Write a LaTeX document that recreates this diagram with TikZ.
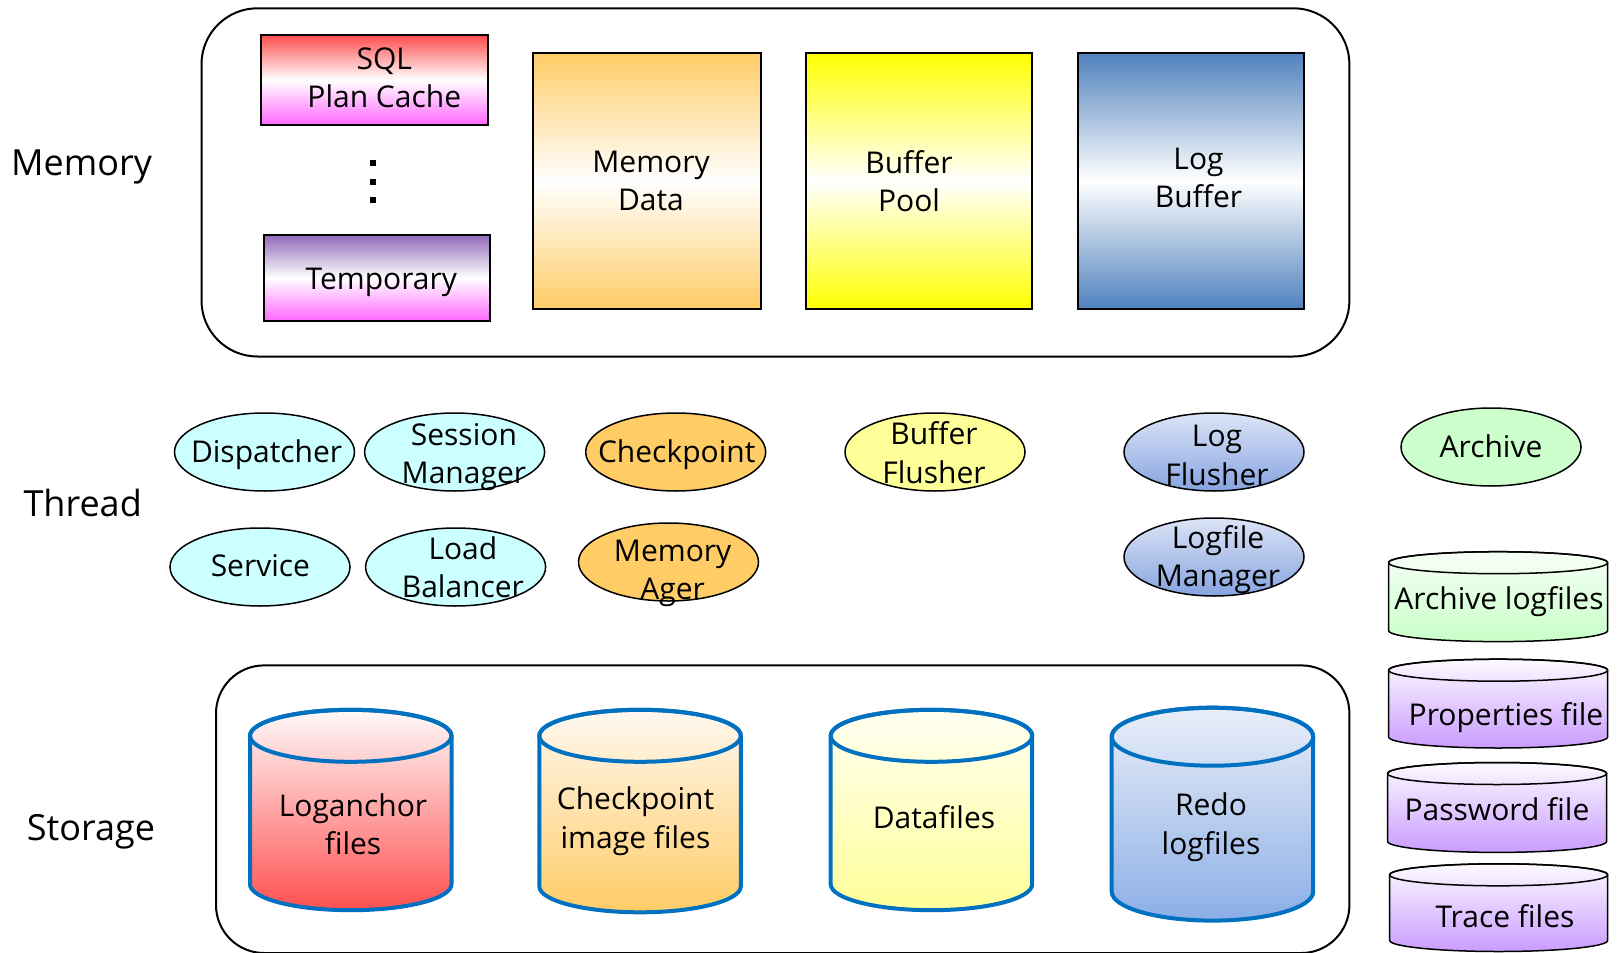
\documentclass[tikz,border=0pt]{standalone}
\usepackage{fontspec}
\setmainfont{Open Sans}
\usetikzlibrary{shapes.geometric}

\definecolor{thrcyan}{HTML}{CCFFFF}
\definecolor{throrange}{HTML}{FFCC66}
\definecolor{thryellow}{HTML}{FFFF99}
\definecolor{thrgreen}{HTML}{CCFFCC}
\definecolor{lfTop}{HTML}{DCE4F6}
\definecolor{lfBot}{HTML}{86A4E0}
\definecolor{sqlTop}{HTML}{FF4D4D}
\definecolor{sqlBot}{HTML}{FF66FF}
\definecolor{tmpTop}{HTML}{9068B8}
\definecolor{mdCol}{HTML}{FFCC66}
\definecolor{bpCol}{HTML}{FFFF00}
\definecolor{lbCol}{HTML}{4F81BD}
\definecolor{cylblue}{HTML}{0070C0}
\definecolor{laTop}{HTML}{FFFAFA}
\definecolor{laBot}{HTML}{FF5050}
\definecolor{ciTop}{HTML}{FFF8F0}
\definecolor{ciBot}{HTML}{FFCC66}
\definecolor{dfTop}{HTML}{FFFFF2}
\definecolor{dfBot}{HTML}{FFFF99}
\definecolor{rdTop}{HTML}{E8EEF8}
\definecolor{rdBot}{HTML}{8CAEE6}
\definecolor{agTop}{HTML}{F7FFF7}
\definecolor{agBot}{HTML}{C8FFC8}
\definecolor{puTop}{HTML}{FDFAFF}
\definecolor{puBot}{HTML}{C99CFF}

\tikzset{
  outerbox/.style={draw=black, line width=1pt},
  membox/.style={rectangle, draw=black, line width=1pt, inner sep=0pt},
  thr/.style={ellipse, draw=black, line width=0.75pt, minimum width=90pt, minimum height=39pt, inner sep=0pt},
  txt/.style={font=\fontsize{15}{19.2}\selectfont, align=center, inner sep=0pt, yshift=-1.5pt},
  lbl/.style={font=\fontsize{18}{22}\selectfont, inner sep=0pt},
  bigcyl/.style={draw=cylblue, line width=2pt},
  smallcyl/.style={draw=black, line width=0.75pt},
  dotsq/.style={rectangle, fill=black, minimum size=3pt, inner sep=0pt},
}

% #1 line style, #2 fill options, #3 left, #4 right, #5 top, #6 bottom, #7 ry
\newcommand\dbcyl[7]{%
  \pgfmathsetmacro\cyCx{(#3+#4)/2}%
  \pgfmathsetmacro\cyRx{(#4-#3)/2}%
  \pgfmathsetmacro\cyYt{#5+#7}%
  \pgfmathsetmacro\cyYb{#6-#7}%
  \draw[#1,#2] (#3,\cyYt) -- (#3,\cyYb)
     arc[start angle=180, end angle=0, x radius=\cyRx, y radius=#7]
     -- (#4,\cyYt)
     arc[start angle=0, end angle=-180, x radius=\cyRx, y radius=#7] -- cycle;
  \draw[#1] (\cyCx,\cyYt) ellipse[x radius=\cyRx, y radius=#7];
}

\begin{document}
\begin{tikzpicture}[x=0.5pt,y=-0.5pt]
\useasboundingbox (0,0) rectangle (1620,952);

% ---------------- Memory ----------------
\node[lbl] (lmem) at (81.6,167) {Memory};
\draw[outerbox, rounded corners=28pt] (201.5,8.3) rectangle (1349.4,356.5);

\node[membox, top color=sqlTop, bottom color=sqlBot, middle color=white,
      minimum width=113.2pt, minimum height=45pt] (sql) at (374.6,80.1) {};
\node[txt] (sql-t) at (384.3,74.5) {SQL\\Plan Cache};

\node[dotsq] (d1) at (373,163) {};
\node[dotsq] (d2) at (373,182) {};
\node[dotsq] (d3) at (373,200) {};

\node[membox, top color=tmpTop, bottom color=sqlBot, middle color=white,
      minimum width=113.1pt, minimum height=43.4pt] (tmp) at (376.6,277.9) {};
\node[txt] (tmp-t) at (381.3,279) {Temporary};

\node[membox, top color=mdCol, bottom color=mdCol, middle color=white,
      minimum width=113.7pt, minimum height=128.1pt] (mdata) at (646.8,180.8) {};
\node[txt] (mdata-t) at (651,178) {Memory\\Data};

\node[membox, top color=bpCol, bottom color=bpCol, middle color=white,
      minimum width=113.2pt, minimum height=128.1pt] (bpool) at (919.1,180.8) {};
\node[txt] (bpool-t) at (909,178) {Buffer\\Pool};

\node[membox, top color=lbCol, bottom color=lbCol, middle color=white,
      minimum width=113.2pt, minimum height=128.1pt] (lbuf) at (1190.8,180.8) {};
\node[txt] (lbuf-t) at (1198.5,175) {Log\\Buffer};

% ---------------- Thread ----------------
\node[lbl] (lthr) at (82.7,503) {Thread};

\node[thr, fill=thrcyan] (disp) at (264.5,452) {};
\node[txt] (disp-t) at (266.6,451.5) {Dispatcher};
\node[thr, fill=thrcyan] (sess) at (454.6,452) {};
\node[txt] (sess-t) at (463.9,454) {Session\\Manager};
\node[thr, fill=throrange] (ckpt) at (675.7,452) {};
\node[txt] (ckpt-t) at (676.7,451.5) {Checkpoint};
\node[thr, fill=thryellow] (bflush) at (935,452) {};
\node[txt] (bflush-t) at (934,449.5) {Buffer\\Flusher};
\node[thr, top color=lfTop, bottom color=lfBot] (lflush) at (1214,452) {};
\node[txt] (lflush-t) at (1217,452.5) {Log\\Flusher};
\node[thr, fill=thrgreen] (arch) at (1491,447) {};
\node[txt] (arch-t) at (1491,443.3) {Archive};

\node[thr, fill=thrcyan] (serv) at (260,567) {};
\node[txt] (serv-t) at (260.4,562.2) {Service};
\node[thr, fill=thrcyan] (lbal) at (455.6,567) {};
\node[txt] (lbal-t) at (462.9,564.2) {Load\\Balancer};
\node[thr, fill=throrange] (mager) at (668.5,562) {};
\node[txt] (mager-t) at (672.6,570.5) {Memory\\Ager};
\node[thr, top color=lfTop, bottom color=lfBot] (lfmgr) at (1214,557) {};
\node[txt] (lfmgr-t) at (1218,556.5) {Logfile\\Manager};

% ---------------- Storage ----------------
\node[lbl] (lsto) at (91,832) {Storage};
\draw[outerbox, rounded corners=24pt] (216,665.4) rectangle (1349.4,953);

\dbcyl{bigcyl}{top color=laTop, bottom color=laBot}{250}{451.5}{709.8}{910.2}{26}
\node[txt] (loga-t) at (353,821) {Loganchor\\files};

\dbcyl{bigcyl}{top color=ciTop, bottom color=ciBot}{539.3}{740.8}{709.8}{912.3}{26}
\node[txt] (cimg-t) at (635.5,818) {Checkpoint\\image files};

\dbcyl{bigcyl}{top color=dfTop, bottom color=dfBot}{830.7}{1032.2}{709.8}{910.2}{26}
\node[txt] (dataf-t) at (934,814) {Datafiles};

\dbcyl{bigcyl}{top color=rdTop, bottom color=rdBot}{1111.7}{1313.2}{707.7}{920.6}{29}
\node[txt] (redo-t) at (1211,824) {Redo\\logfiles};

% side files
\dbcyl{smallcyl}{top color=agTop, bottom color=agBot}{1388.6}{1607.6}{551.7}{641.6}{11}
\node[txt] (alog-t) at (1499,598.5) {Archive logfiles};

\dbcyl{smallcyl}{top color=puTop, bottom color=puBot}{1388.6}{1607.6}{659.2}{748}{11}
\node[txt] (prop-t) at (1506,714.5) {Properties file};

\dbcyl{smallcyl}{top color=puTop, bottom color=puBot}{1387.6}{1606.6}{762.5}{852.4}{11}
\node[txt] (pass-t) at (1497,806) {Password file};

\dbcyl{smallcyl}{top color=puTop, bottom color=puBot}{1389.7}{1607.6}{863.8}{951.5}{11}
\node[txt] (trace-t) at (1505,913) {Trace files};
\end{tikzpicture}
\end{document}
